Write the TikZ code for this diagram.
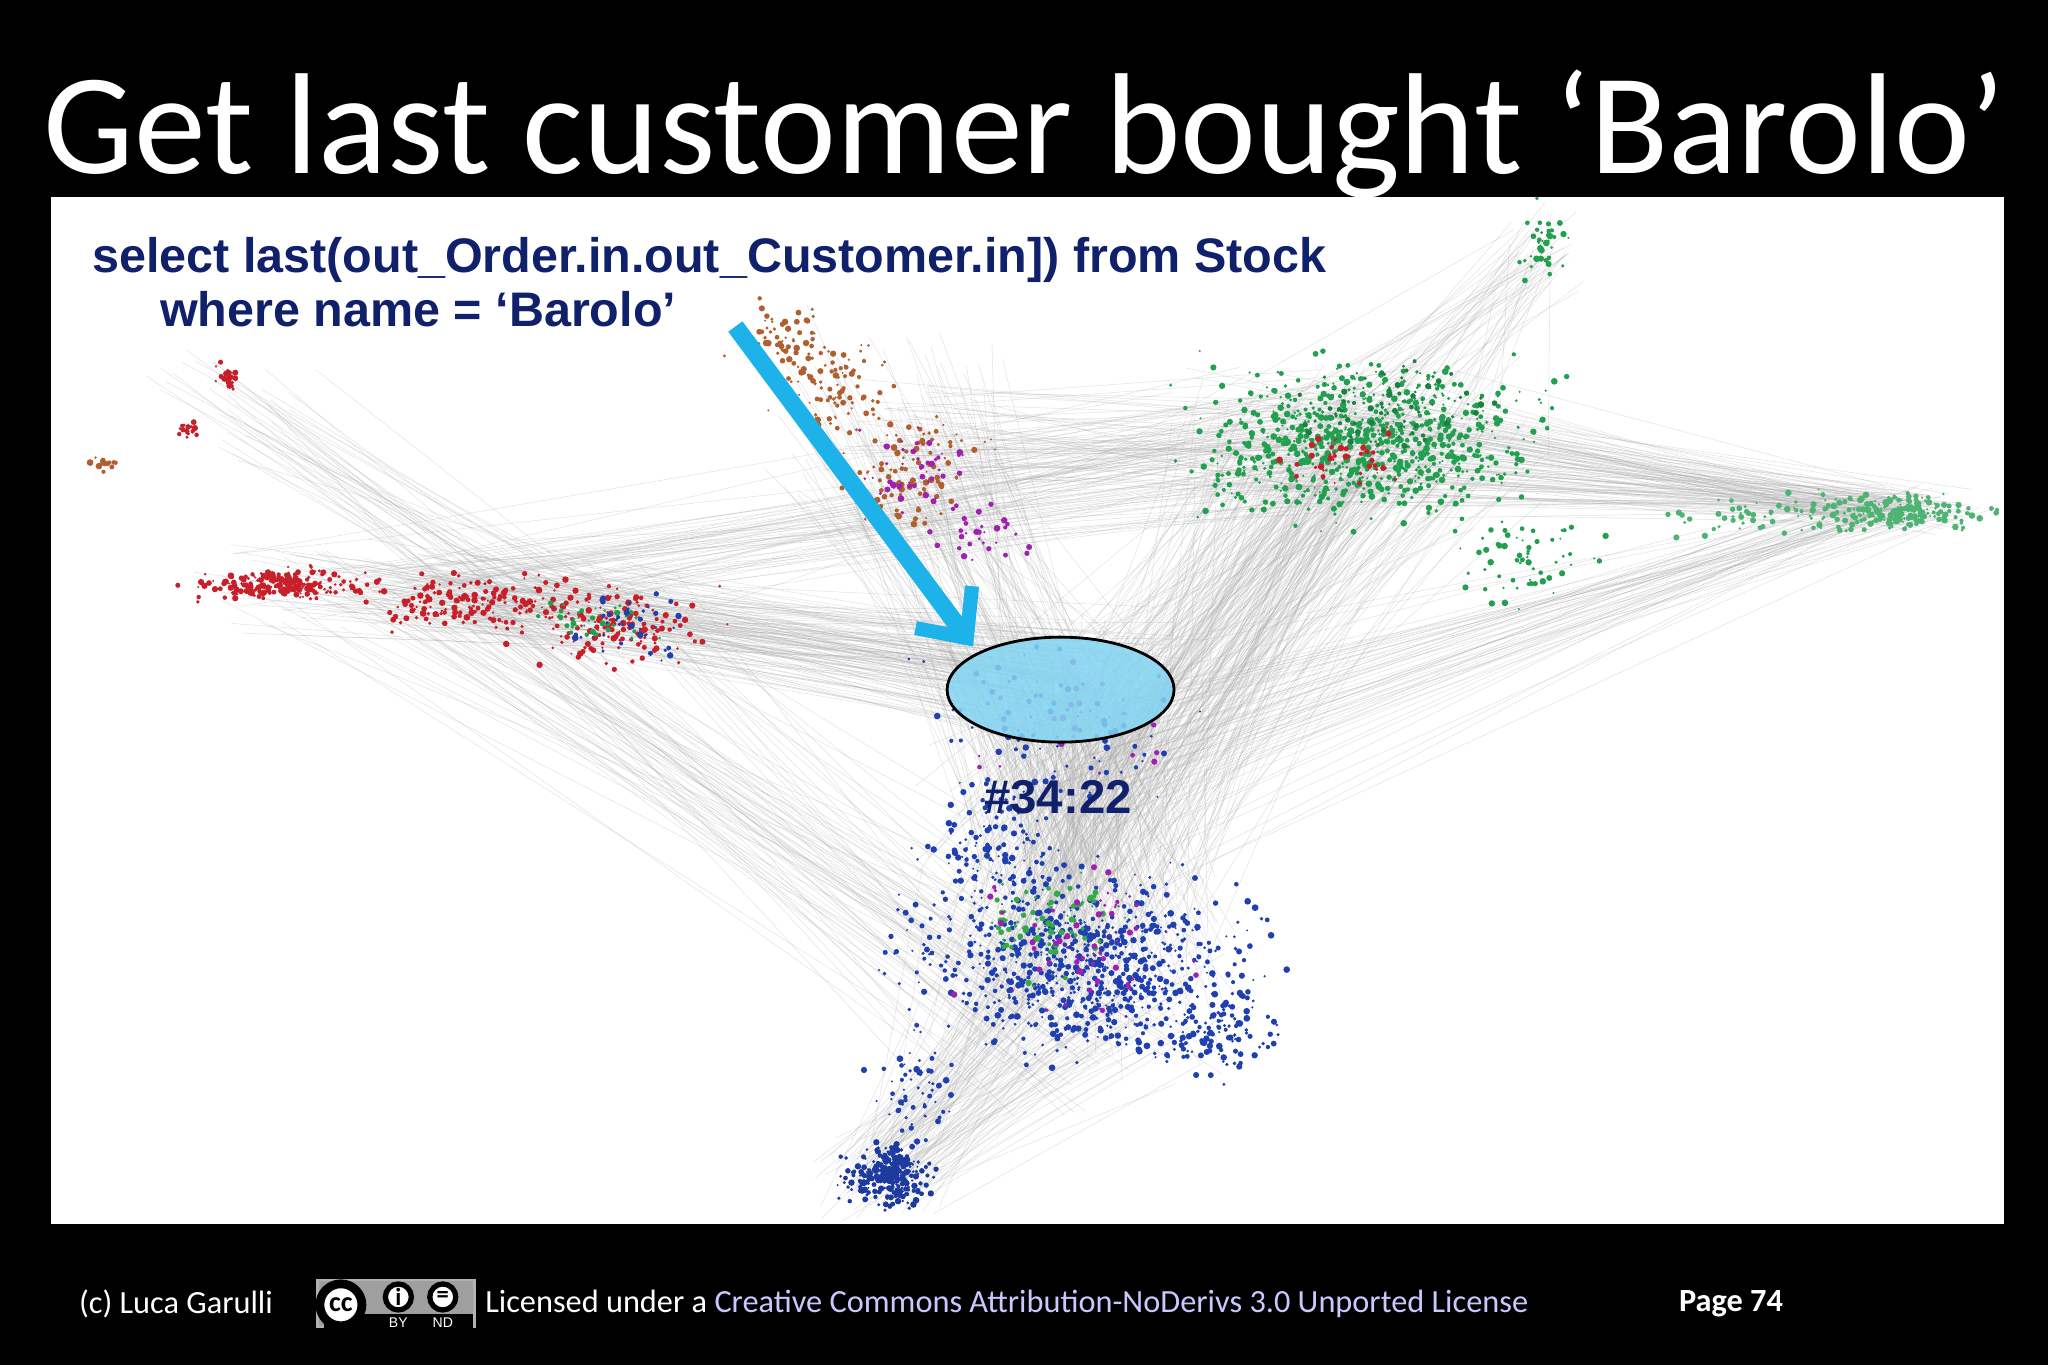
\documentclass[tikz,border=0pt]{standalone}
\usepackage{fontspec}
\setmainfont{Carlito}
\newfontfamily\arialb{Liberation Sans}
\usetikzlibrary{arrows.meta,shapes.geometric}
\definecolor{navy}{HTML}{10206A}
\definecolor{cyanA}{HTML}{1EB2EA}
\definecolor{lav}{HTML}{C8C8FF}
\definecolor{gB}{HTML}{22A050}
\definecolor{rB}{HTML}{C8202A}
\definecolor{bB}{HTML}{2040B0}
\definecolor{brB}{HTML}{B06030}
\definecolor{pB}{HTML}{A020B0}
\newcommand\dotcluster[6]{%
 \foreach \k in {1,...,#5}{%
  \pgfmathsetmacro\dx{(rand+rand+rand)*#3/1.9}%
  \pgfmathsetmacro\dy{(rand+rand+rand)*#4/1.9}%
  \pgfmathsetmacro\rr{0.8+1.8*rnd}%
  \fill[#6] (#1+\dx,#2+\dy) circle[radius=\rr];}}
\newcommand\edgebundle[9]{%
 \foreach \k in {1,...,#9}{%
  \pgfmathsetmacro\ax{#1+(rand+rand)*#3/2}\pgfmathsetmacro\ay{#2+(rand+rand)*#4/2}%
  \pgfmathsetmacro\bx{#5+(rand+rand)*#7/2}\pgfmathsetmacro\by{#6+(rand+rand)*#8/2}%
  \draw[gray!70,line width=0.15pt,opacity=0.3] (\ax,\ay) -- (\bx,\by);}}
\begin{document}
\begin{tikzpicture}[x=0.013061cm,y=-0.013061cm,
  foot/.style={anchor=west,text=white,font=\fontsize{9.2pt}{11pt}\selectfont,inner sep=0},
  query/.style={anchor=base west,inner sep=0,text=navy,font=\arialb\bfseries\fontsize{13.8pt}{16pt}\selectfont}]
\useasboundingbox (0,0) rectangle (1568,1045);
\fill[black] (0,0) rectangle (1568,1045);
\node[anchor=base west,text=white,inner sep=0,font=\fontsize{40.9pt}{48pt}\selectfont] (title) at (33,133) {Get last customer bought ‘Barolo’};
\fill[white] (39,151) rectangle (1534,937);
\begin{scope}
\clip (39,151) rectangle (1534,937);
\pgfmathsetseed{42}
\edgebundle{1040}{340}{150}{70}{820}{650}{130}{150}{260}
\edgebundle{1040}{340}{150}{70}{1450}{390}{80}{20}{120}
\edgebundle{1040}{340}{150}{70}{700}{350}{80}{80}{80}
\edgebundle{1040}{340}{150}{70}{1180}{190}{40}{40}{50}
\edgebundle{330}{450}{200}{40}{820}{520}{120}{60}{140}
\edgebundle{820}{520}{120}{60}{820}{740}{140}{100}{220}
\edgebundle{820}{740}{140}{100}{680}{900}{60}{40}{120}
\edgebundle{680}{330}{100}{100}{820}{600}{100}{150}{120}
\edgebundle{180}{310}{80}{60}{430}{470}{80}{50}{40}
\edgebundle{330}{450}{200}{40}{820}{780}{140}{80}{80}
\edgebundle{1450}{390}{80}{20}{820}{600}{80}{100}{60}
\edgebundle{330}{450}{200}{40}{1040}{340}{150}{70}{60}
\dotcluster{1040}{340}{110}{50}{800}{gB}
\dotcluster{1030}{350}{40}{20}{40}{rB}
\dotcluster{1060}{310}{60}{30}{80}{gB!80!black}
\dotcluster{1450}{392}{60}{12}{220}{gB!80}
\dotcluster{1340}{395}{60}{14}{50}{gB!80}
\dotcluster{1180}{185}{15}{30}{40}{gB}
\dotcluster{1160}{430}{60}{30}{60}{gB}
\dotcluster{220}{448}{60}{10}{220}{rB}
\dotcluster{360}{462}{70}{20}{150}{rB}
\dotcluster{470}{480}{60}{25}{160}{rB}
\dotcluster{460}{475}{40}{15}{40}{gB}
\dotcluster{480}{480}{40}{20}{40}{bB}
\dotcluster{175}{290}{10}{10}{25}{rB}
\dotcluster{145}{330}{8}{5}{20}{rB}
\dotcluster{80}{355}{8}{5}{15}{brB}
\dotcluster{600}{260}{30}{25}{60}{brB}
\dotcluster{640}{300}{40}{30}{90}{brB}
\dotcluster{700}{360}{45}{35}{100}{brB}
\dotcluster{700}{360}{40}{30}{50}{pB}
\dotcluster{750}{410}{30}{20}{30}{pB}
\dotcluster{810}{560}{90}{50}{90}{bB}
\dotcluster{810}{560}{90}{50}{25}{pB}
\dotcluster{830}{740}{110}{60}{800}{bB}
\dotcluster{800}{710}{50}{35}{80}{gB!90!lime}
\dotcluster{830}{720}{70}{45}{60}{pB}
\dotcluster{760}{650}{50}{35}{120}{bB}
\dotcluster{930}{790}{40}{30}{120}{bB}
\dotcluster{680}{900}{28}{20}{260}{bB!90!black}
\dotcluster{700}{840}{30}{35}{60}{bB}
\end{scope}
\node[query] (q1) at (70,209) {select last(out\_Order.in.out\_Customer.in]) from Stock};
\node[query] (q2) at (122,250) {where name = ‘Barolo’};
\node[draw=black,line width=0.8pt,fill=cyanA!55,fill opacity=0.85,ellipse,minimum width=2.27cm,minimum height=1.05cm,inner sep=0] (ell) at (812,528) {};
\coordinate (as) at (563,250);
\coordinate (ae) at (745,495);
\draw[cyanA,line width=5pt,-{Straight Barb[length=11pt,width=20pt,line width=4pt]}] (as) -- (ae);
\node[text=navy,font=\arialb\bfseries\fontsize{13.5pt}{15pt}\selectfont,inner sep=0] (lbl) at (810,610) {\#34:22};
\node[foot] (c) at (60,998) {(c) Luca Garulli};
\node[draw=gray!60,fill=gray!75,line width=0.8pt,minimum width=1.57cm,minimum height=0.47cm,inner sep=0,anchor=west] (cc) at (242,998) {};
\fill[black] (248,1006) rectangle (362,1018);
\node[circle,fill=white,draw=black,line width=2.5pt,minimum size=0.42cm,inner sep=0,font=\bfseries\fontsize{8pt}{8pt}\selectfont] (ccl) at (261,999) {cc};
\node[circle,fill=white,draw=black,line width=1.5pt,minimum size=0.26cm,inner sep=0,font=\bfseries\fontsize{7pt}{7pt}\selectfont] (by) at (305,993) {i};
\node[circle,fill=white,draw=black,line width=1.5pt,minimum size=0.26cm,inner sep=0,font=\bfseries\fontsize{7pt}{7pt}\selectfont] (nd) at (339,993) {=};
\node[text=white,font=\arialb\fontsize{4pt}{4pt}\selectfont,inner sep=0] (byt) at (305,1013) {BY};
\node[text=white,font=\arialb\fontsize{4pt}{4pt}\selectfont,inner sep=0] (ndt) at (339,1013) {ND};
\node[foot] (lic) at (371,998) {Licensed under a \textcolor{lav}{Creative Commons Attribution-NoDerivs 3.0 Unported License}};
\node[foot,font=\bfseries\fontsize{9.2pt}{11pt}\selectfont] (pg) at (1285,998) {Page 74};
\end{tikzpicture}
\end{document}
